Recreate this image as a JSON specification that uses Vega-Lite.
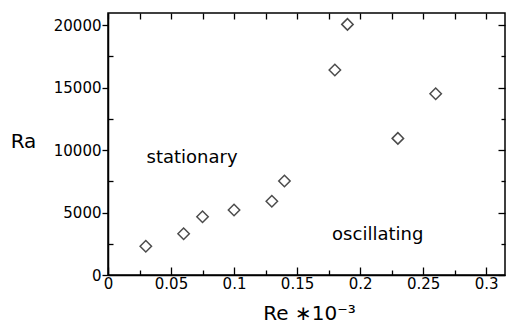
{
  "$schema": "https://vega.github.io/schema/vega-lite/v6.json",
  "width": 397,
  "height": 262,
  "autosize": {"type": "none"},
  "padding": {"left": 108, "top": 13, "right": 5, "bottom": 49},
  "config": {
    "font": "DejaVu Sans",
    "view": {"stroke": "black", "strokeWidth": 1.5},
    "axis": {"grid": false, "domainColor": "black", "domainWidth": 1.5, "tickColor": "black", "tickWidth": 1.3, "labelColor": "black", "titleColor": "black", "labelFont": "DejaVu Sans", "titleFont": "DejaVu Sans", "labelFontSize": 15, "titleFontWeight": "normal"}
  },
  "datasets": {
    "pts": [
      {"re": 0.03, "ra": 2300},
      {"re": 0.06, "ra": 3300},
      {"re": 0.075, "ra": 4660},
      {"re": 0.1, "ra": 5200},
      {"re": 0.13, "ra": 5900},
      {"re": 0.14, "ra": 7520},
      {"re": 0.18, "ra": 16400},
      {"re": 0.19, "ra": 20050},
      {"re": 0.23, "ra": 10930},
      {"re": 0.26, "ra": 14500}
    ],
    "labels": [
      {"re": 0.0667, "ra": 8935, "label": "stationary"},
      {"re": 0.214, "ra": 2792, "label": "oscillating"}
    ]
  },
  "layer": [
    {
      "data": {"name": "pts"},
      "mark": {"type": "point", "shape": "diamond", "size": 130, "filled": false, "stroke": "black", "strokeWidth": 1.5},
      "encoding": {
        "x": {"field": "re", "type": "quantitative", "scale": {"domain": [0, 0.315], "nice": false, "zero": false},
          "axis": {"orient": "bottom", "values": [0, 0.025, 0.05, 0.075, 0.1, 0.125, 0.15, 0.175, 0.2, 0.225, 0.25, 0.275, 0.3], "format": "~g",
            "labelExpr": "round(datum.value*1000) % 50 == 0 ? datum.label : ''",
            "tickSize": {"condition": {"test": "round(datum.value*1000) % 50 == 0", "value": -8}, "value": -5},
            "labelPadding": 9, "labelFlush": false, "labelFontSize": 15,
            "title": "Re  ∗10⁻³", "titleFontSize": 20, "titleX": 201, "titleY": 44, "titleBaseline": "alphabetic", "titleAnchor": "middle"}},
        "y": {"field": "ra", "type": "quantitative", "scale": {"domain": [0, 20960], "nice": false},
          "axis": {"orient": "left", "values": [0, 2500, 5000, 7500, 10000, 12500, 15000, 17500, 20000], "format": "d",
            "labelExpr": "datum.value % 5000 == 0 ? datum.label : ''",
            "tickSize": {"condition": {"test": "datum.value % 5000 == 0", "value": 6}, "value": -5},
            "labelPadding": 1, "labelFlush": false, "labelFontSize": 15,
            "title": "Ra", "titleFontSize": 20, "titleAngle": 0, "titleX": -85, "titleY": 134, "titleAlign": "center", "titleBaseline": "alphabetic"}}
      }
    },
    {
      "data": {"name": "labels"},
      "mark": {"type": "text", "fontSize": 18, "font": "DejaVu Sans", "align": "center", "baseline": "alphabetic", "color": "black"},
      "encoding": {
        "x": {"field": "re", "type": "quantitative",
          "axis": {"orient": "top", "values": [0, 0.025, 0.05, 0.075, 0.1, 0.125, 0.15, 0.175, 0.2, 0.225, 0.25, 0.275, 0.3], "labels": false, "domain": false, "tickSize": -6, "title": null}},
        "y": {"field": "ra", "type": "quantitative",
          "axis": {"orient": "right", "values": [0, 2500, 5000, 7500, 10000, 12500, 15000, 17500, 20000], "labels": false, "domain": false,
            "tickSize": {"condition": {"test": "datum.value % 5000 == 0", "value": -7}, "value": -4}, "title": null}},
        "text": {"field": "label"}
      }
    }
  ],
  "resolve": {"axis": {"x": "independent", "y": "independent"}}
}
